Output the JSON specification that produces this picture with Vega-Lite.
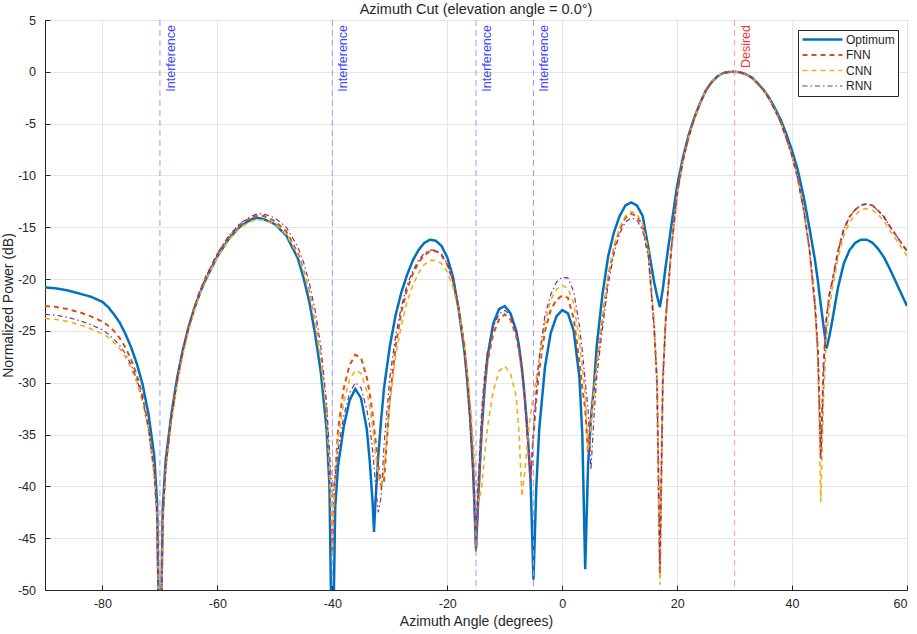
{
  "$schema": "https://vega.github.io/schema/vega-lite/v6.json",
  "width": 862,
  "height": 570,
  "autosize": {"type": "none"},
  "padding": {"left": 45, "top": 20, "right": 10, "bottom": 44},
  "background": "white",
  "title": {"text": "Azimuth Cut (elevation angle = 0.0°)", "fontSize": 14.5, "fontWeight": "normal", "font": "Liberation Sans", "color": "#262626", "offset": -3},
  "config": {
    "font": "Liberation Sans",
    "view": {"stroke": "#262626", "strokeWidth": 1},
    "axis": {
      "domainColor": "#262626", "tickColor": "#262626", "labelColor": "#262626", "titleColor": "#262626",
      "labelFontSize": 12.5, "titleFontSize": 14, "titleFontWeight": "normal", "labelFont": "Liberation Sans", "titleFont": "Liberation Sans",
      "gridColor": "#e6e6e6", "gridWidth": 1, "tickSize": -5, "labelExpr": "toString(datum.value)"
    }
  },
  "layer": [
    {
      "data": {"values": [
        {"x":-90,"Optimum":-20.8,"FNN":-22.6,"CNN":-23.8,"RNN":-23.4},
        {"x":-88,"Optimum":-20.9,"FNN":-22.7,"CNN":-23.9,"RNN":-23.5},
        {"x":-86,"Optimum":-21.1,"FNN":-22.9,"CNN":-24.1,"RNN":-23.7},
        {"x":-84,"Optimum":-21.4,"FNN":-23.2,"CNN":-24.4,"RNN":-24.0},
        {"x":-82,"Optimum":-21.7,"FNN":-23.6,"CNN":-24.8,"RNN":-24.4},
        {"x":-80,"Optimum":-22.2,"FNN":-24.1,"CNN":-25.3,"RNN":-24.9},
        {"x":-79,"Optimum":-22.7,"FNN":-24.5,"CNN":-25.6,"RNN":-25.3},
        {"x":-78,"Optimum":-23.4,"FNN":-25.0,"CNN":-26.1,"RNN":-25.8},
        {"x":-77,"Optimum":-24.2,"FNN":-25.7,"CNN":-26.7,"RNN":-26.4},
        {"x":-76,"Optimum":-25.3,"FNN":-26.6,"CNN":-27.5,"RNN":-27.2},
        {"x":-75,"Optimum":-26.6,"FNN":-27.8,"CNN":-28.6,"RNN":-28.3},
        {"x":-74,"Optimum":-28.2,"FNN":-29.3,"CNN":-30.0,"RNN":-29.7},
        {"x":-73,"Optimum":-30.2,"FNN":-31.3,"CNN":-31.9,"RNN":-31.6},
        {"x":-72,"Optimum":-33.0,"FNN":-34.2,"CNN":-34.6,"RNN":-34.3},
        {"x":-71,"Optimum":-37.0,"FNN":-38.5,"CNN":-38.8,"RNN":-38.5},
        {"x":-70.5,"Optimum":-41.5,"FNN":-43,"CNN":-43,"RNN":-43},
        {"x":-70,"Optimum":-60,"FNN":-60,"CNN":-60,"RNN":-60},
        {"x":-69.5,"Optimum":-42,"FNN":-43,"CNN":-44,"RNN":-43.5},
        {"x":-69,"Optimum":-37.5,"FNN":-38,"CNN":-38.5,"RNN":-38.2},
        {"x":-68,"Optimum":-33.0,"FNN":-33.3,"CNN":-33.8,"RNN":-33.5},
        {"x":-67,"Optimum":-29.5,"FNN":-29.7,"CNN":-30.2,"RNN":-29.8},
        {"x":-66,"Optimum":-26.8,"FNN":-26.9,"CNN":-27.3,"RNN":-26.9},
        {"x":-65,"Optimum":-24.6,"FNN":-24.6,"CNN":-25.0,"RNN":-24.6},
        {"x":-64,"Optimum":-22.8,"FNN":-22.7,"CNN":-23.0,"RNN":-22.7},
        {"x":-63,"Optimum":-21.3,"FNN":-21.1,"CNN":-21.4,"RNN":-21.1},
        {"x":-62,"Optimum":-20.0,"FNN":-19.8,"CNN":-20.0,"RNN":-19.8},
        {"x":-60,"Optimum":-17.8,"FNN":-17.6,"CNN":-17.9,"RNN":-17.5},
        {"x":-58,"Optimum":-16.1,"FNN":-15.9,"CNN":-16.2,"RNN":-15.8},
        {"x":-56,"Optimum":-14.9,"FNN":-14.7,"CNN":-15.0,"RNN":-14.6},
        {"x":-54,"Optimum":-14.2,"FNN":-14.0,"CNN":-14.4,"RNN":-13.9},
        {"x":-53,"Optimum":-14.1,"FNN":-13.9,"CNN":-14.3,"RNN":-13.7},
        {"x":-52,"Optimum":-14.2,"FNN":-13.9,"CNN":-14.3,"RNN":-13.7},
        {"x":-50,"Optimum":-14.7,"FNN":-14.4,"CNN":-14.7,"RNN":-14.1},
        {"x":-48,"Optimum":-15.8,"FNN":-15.4,"CNN":-15.7,"RNN":-15.0},
        {"x":-46,"Optimum":-18.0,"FNN":-17.5,"CNN":-17.7,"RNN":-16.9},
        {"x":-45,"Optimum":-19.9,"FNN":-19.2,"CNN":-19.3,"RNN":-18.4},
        {"x":-44,"Optimum":-22.2,"FNN":-21.3,"CNN":-21.4,"RNN":-20.4},
        {"x":-43,"Optimum":-25.3,"FNN":-24.2,"CNN":-24.2,"RNN":-23.0},
        {"x":-42,"Optimum":-29.0,"FNN":-27.8,"CNN":-27.8,"RNN":-26.5},
        {"x":-41,"Optimum":-34.5,"FNN":-33,"CNN":-33,"RNN":-32},
        {"x":-40.5,"Optimum":-40,"FNN":-38.5,"CNN":-38,"RNN":-36.5},
        {"x":-40,"Optimum":-60,"FNN":-46.5,"CNN":-44,"RNN":-41},
        {"x":-39.5,"Optimum":-42,"FNN":-39,"CNN":-39,"RNN":-39},
        {"x":-39,"Optimum":-38,"FNN":-34.5,"CNN":-35.5,"RNN":-36.5},
        {"x":-38,"Optimum":-34.2,"FNN":-30.5,"CNN":-31.8,"RNN":-33.2},
        {"x":-37,"Optimum":-31.7,"FNN":-28.3,"CNN":-29.7,"RNN":-31.0},
        {"x":-36,"Optimum":-30.6,"FNN":-27.3,"CNN":-28.8,"RNN":-30.0},
        {"x":-35,"Optimum":-31.5,"FNN":-27.6,"CNN":-29.1,"RNN":-30.5},
        {"x":-34,"Optimum":-34.5,"FNN":-29.5,"CNN":-30.8,"RNN":-32.6},
        {"x":-33.5,"Optimum":-37.5,"FNN":-31,"CNN":-32.3,"RNN":-34.2},
        {"x":-33,"Optimum":-41.5,"FNN":-33,"CNN":-34.3,"RNN":-36.5},
        {"x":-32.75,"Optimum":-44.4,"FNN":-34.3,"CNN":-35.5,"RNN":-38},
        {"x":-32.5,"Optimum":-41.5,"FNN":-35.5,"CNN":-36.8,"RNN":-39.8},
        {"x":-32,"Optimum":-37,"FNN":-38,"CNN":-39,"RNN":-42.5},
        {"x":-31.5,"Optimum":-33.5,"FNN":-40,"CNN":-40.3,"RNN":-41},
        {"x":-31,"Optimum":-30.5,"FNN":-39.5,"CNN":-38.5,"RNN":-36},
        {"x":-30,"Optimum":-26.5,"FNN":-31.5,"CNN":-32,"RNN":-29.5},
        {"x":-29,"Optimum":-23.5,"FNN":-26.5,"CNN":-27.5,"RNN":-25.5},
        {"x":-28,"Optimum":-21.3,"FNN":-23.2,"CNN":-24.5,"RNN":-22.7},
        {"x":-27,"Optimum":-19.6,"FNN":-21.0,"CNN":-22.2,"RNN":-20.6},
        {"x":-26,"Optimum":-18.2,"FNN":-19.5,"CNN":-20.6,"RNN":-19.2},
        {"x":-25,"Optimum":-17.2,"FNN":-18.4,"CNN":-19.4,"RNN":-18.2},
        {"x":-24,"Optimum":-16.5,"FNN":-17.7,"CNN":-18.6,"RNN":-17.5},
        {"x":-23,"Optimum":-16.2,"FNN":-17.3,"CNN":-18.2,"RNN":-17.2},
        {"x":-22,"Optimum":-16.3,"FNN":-17.3,"CNN":-18.2,"RNN":-17.2},
        {"x":-21,"Optimum":-16.8,"FNN":-17.7,"CNN":-18.5,"RNN":-17.6},
        {"x":-20,"Optimum":-17.9,"FNN":-18.6,"CNN":-19.3,"RNN":-18.5},
        {"x":-19,"Optimum":-19.8,"FNN":-20.2,"CNN":-20.8,"RNN":-20.2},
        {"x":-18,"Optimum":-23.0,"FNN":-22.8,"CNN":-23,"RNN":-23},
        {"x":-17,"Optimum":-27.0,"FNN":-26.5,"CNN":-26.5,"RNN":-27},
        {"x":-16.5,"Optimum":-30,"FNN":-29.5,"CNN":-29,"RNN":-30},
        {"x":-16,"Optimum":-33.5,"FNN":-33,"CNN":-32,"RNN":-34},
        {"x":-15.5,"Optimum":-38.5,"FNN":-38,"CNN":-35.5,"RNN":-39},
        {"x":-15,"Optimum":-46,"FNN":-46.3,"CNN":-39.5,"RNN":-44},
        {"x":-14.5,"Optimum":-40,"FNN":-40,"CNN":-41.5,"RNN":-38},
        {"x":-14,"Optimum":-34.5,"FNN":-34,"CNN":-40,"RNN":-32.5},
        {"x":-13.5,"Optimum":-30.5,"FNN":-30.5,"CNN":-37,"RNN":-29.2},
        {"x":-13,"Optimum":-27.5,"FNN":-28,"CNN":-34.3,"RNN":-27},
        {"x":-12,"Optimum":-24.3,"FNN":-25.3,"CNN":-30.8,"RNN":-24.6},
        {"x":-11,"Optimum":-22.9,"FNN":-23.9,"CNN":-28.9,"RNN":-23.4},
        {"x":-10,"Optimum":-22.6,"FNN":-23.4,"CNN":-28.4,"RNN":-23.0},
        {"x":-9,"Optimum":-23.3,"FNN":-23.9,"CNN":-29.1,"RNN":-23.5},
        {"x":-8,"Optimum":-25.0,"FNN":-25.5,"CNN":-31.3,"RNN":-25.0},
        {"x":-7.5,"Optimum":-26.5,"FNN":-27,"CNN":-35,"RNN":-26.5},
        {"x":-7,"Optimum":-28.7,"FNN":-29,"CNN":-41,"RNN":-28.5},
        {"x":-6.5,"Optimum":-31.5,"FNN":-31.5,"CNN":-38.5,"RNN":-31.5},
        {"x":-6,"Optimum":-35.0,"FNN":-35.5,"CNN":-35.5,"RNN":-35.5},
        {"x":-5.5,"Optimum":-39.5,"FNN":-39.5,"CNN":-33,"RNN":-39.5},
        {"x":-5,"Optimum":-49,"FNN":-35,"CNN":-31.2,"RNN":-35},
        {"x":-4.5,"Optimum":-40,"FNN":-31.5,"CNN":-29.5,"RNN":-30.5},
        {"x":-4,"Optimum":-34.5,"FNN":-28.8,"CNN":-27.8,"RNN":-27.5},
        {"x":-3,"Optimum":-28.5,"FNN":-25.0,"CNN":-24.2,"RNN":-23.5},
        {"x":-2,"Optimum":-25.2,"FNN":-23.0,"CNN":-22.0,"RNN":-21.5},
        {"x":-1,"Optimum":-23.6,"FNN":-22.0,"CNN":-21.0,"RNN":-20.3},
        {"x":0,"Optimum":-23.0,"FNN":-21.6,"CNN":-20.6,"RNN":-19.8},
        {"x":1,"Optimum":-23.3,"FNN":-21.8,"CNN":-20.9,"RNN":-19.9},
        {"x":2,"Optimum":-25.0,"FNN":-23.8,"CNN":-22.3,"RNN":-21.2},
        {"x":3,"Optimum":-29.5,"FNN":-28.0,"CNN":-26,"RNN":-24.5},
        {"x":3.5,"Optimum":-35,"FNN":-30.5,"CNN":-28.5,"RNN":-27},
        {"x":4,"Optimum":-48,"FNN":-32.5,"CNN":-31,"RNN":-29.8},
        {"x":4.5,"Optimum":-38,"FNN":-36.8,"CNN":-36.5,"RNN":-32.5},
        {"x":5,"Optimum":-33.5,"FNN":-33.5,"CNN":-34,"RNN":-38.4},
        {"x":5.5,"Optimum":-30.5,"FNN":-30.5,"CNN":-31,"RNN":-33.5},
        {"x":6,"Optimum":-26.5,"FNN":-28,"CNN":-28.5,"RNN":-29.5},
        {"x":7,"Optimum":-21.5,"FNN":-24.0,"CNN":-23.8,"RNN":-24.8},
        {"x":8,"Optimum":-17.8,"FNN":-19.8,"CNN":-19.6,"RNN":-20.5},
        {"x":9,"Optimum":-15.5,"FNN":-17.0,"CNN":-16.8,"RNN":-17.6},
        {"x":10,"Optimum":-13.9,"FNN":-15.2,"CNN":-15.0,"RNN":-15.6},
        {"x":11,"Optimum":-12.9,"FNN":-14.1,"CNN":-13.9,"RNN":-14.5},
        {"x":12,"Optimum":-12.6,"FNN":-13.7,"CNN":-13.5,"RNN":-14.1},
        {"x":13,"Optimum":-12.9,"FNN":-13.9,"CNN":-13.7,"RNN":-14.3},
        {"x":14,"Optimum":-13.9,"FNN":-14.9,"CNN":-14.7,"RNN":-15.3},
        {"x":15,"Optimum":-17.0,"FNN":-17.5,"CNN":-17.3,"RNN":-17.9},
        {"x":16,"Optimum":-20.3,"FNN":-24.6,"CNN":-24.3,"RNN":-24.8},
        {"x":16.5,"Optimum":-21.6,"FNN":-30,"CNN":-29.5,"RNN":-30},
        {"x":17,"Optimum":-22.7,"FNN":-48.5,"CNN":-49.5,"RNN":-48},
        {"x":17.5,"Optimum":-21.0,"FNN":-30,"CNN":-30,"RNN":-30},
        {"x":18,"Optimum":-18.8,"FNN":-24,"CNN":-24,"RNN":-24},
        {"x":19,"Optimum":-14.8,"FNN":-17.0,"CNN":-17.0,"RNN":-17.0},
        {"x":20,"Optimum":-11.0,"FNN":-11.8,"CNN":-11.8,"RNN":-11.8},
        {"x":21,"Optimum":-8.3,"FNN":-8.6,"CNN":-8.6,"RNN":-8.6},
        {"x":22,"Optimum":-6.1,"FNN":-6.3,"CNN":-6.3,"RNN":-6.3},
        {"x":23,"Optimum":-4.4,"FNN":-4.5,"CNN":-4.5,"RNN":-4.5},
        {"x":24,"Optimum":-3.0,"FNN":-3.0,"CNN":-3.0,"RNN":-3.0},
        {"x":25,"Optimum":-1.8,"FNN":-1.8,"CNN":-1.8,"RNN":-1.8},
        {"x":26,"Optimum":-1.0,"FNN":-1.0,"CNN":-1.0,"RNN":-1.0},
        {"x":27,"Optimum":-0.45,"FNN":-0.45,"CNN":-0.45,"RNN":-0.45},
        {"x":28,"Optimum":-0.12,"FNN":-0.12,"CNN":-0.12,"RNN":-0.12},
        {"x":29,"Optimum":-0.01,"FNN":-0.01,"CNN":-0.01,"RNN":-0.01},
        {"x":30,"Optimum":0,"FNN":0,"CNN":0,"RNN":0},
        {"x":31,"Optimum":-0.05,"FNN":-0.05,"CNN":-0.05,"RNN":-0.05},
        {"x":32,"Optimum":-0.25,"FNN":-0.26,"CNN":-0.26,"RNN":-0.26},
        {"x":33,"Optimum":-0.55,"FNN":-0.57,"CNN":-0.57,"RNN":-0.57},
        {"x":34,"Optimum":-1.1,"FNN":-1.12,"CNN":-1.12,"RNN":-1.12},
        {"x":35,"Optimum":-1.7,"FNN":-1.75,"CNN":-1.75,"RNN":-1.75},
        {"x":36,"Optimum":-2.5,"FNN":-2.6,"CNN":-2.6,"RNN":-2.6},
        {"x":37,"Optimum":-3.5,"FNN":-3.65,"CNN":-3.65,"RNN":-3.65},
        {"x":38,"Optimum":-4.6,"FNN":-4.85,"CNN":-4.85,"RNN":-4.85},
        {"x":39,"Optimum":-6.0,"FNN":-6.4,"CNN":-6.4,"RNN":-6.4},
        {"x":40,"Optimum":-7.6,"FNN":-8.1,"CNN":-8.1,"RNN":-8.1},
        {"x":41,"Optimum":-9.5,"FNN":-10.3,"CNN":-10.3,"RNN":-10.3},
        {"x":42,"Optimum":-12.0,"FNN":-13.2,"CNN":-13.2,"RNN":-13.2},
        {"x":43,"Optimum":-15.0,"FNN":-17.0,"CNN":-17.2,"RNN":-17.0},
        {"x":44,"Optimum":-18.2,"FNN":-22.5,"CNN":-23,"RNN":-22.5},
        {"x":44.5,"Optimum":-20.2,"FNN":-27,"CNN":-28,"RNN":-27},
        {"x":45,"Optimum":-22.5,"FNN":-36.8,"CNN":-41.5,"RNN":-37.5},
        {"x":45.5,"Optimum":-24.6,"FNN":-28,"CNN":-31,"RNN":-28.5},
        {"x":46,"Optimum":-26.7,"FNN":-23.7,"CNN":-25.5,"RNN":-23.7},
        {"x":46.5,"Optimum":-25.5,"FNN":-21.5,"CNN":-22.8,"RNN":-21.5},
        {"x":47,"Optimum":-24.0,"FNN":-20.2,"CNN":-21,"RNN":-20.2},
        {"x":48,"Optimum":-20.8,"FNN":-17.3,"CNN":-18.0,"RNN":-17.3},
        {"x":49,"Optimum":-18.5,"FNN":-15.2,"CNN":-15.8,"RNN":-15.2},
        {"x":50,"Optimum":-17.2,"FNN":-14.0,"CNN":-14.5,"RNN":-14.0},
        {"x":51,"Optimum":-16.5,"FNN":-13.3,"CNN":-13.8,"RNN":-13.3},
        {"x":52,"Optimum":-16.2,"FNN":-12.85,"CNN":-13.3,"RNN":-12.85},
        {"x":53,"Optimum":-16.2,"FNN":-12.75,"CNN":-13.2,"RNN":-12.75},
        {"x":54,"Optimum":-16.5,"FNN":-12.9,"CNN":-13.35,"RNN":-12.9},
        {"x":55,"Optimum":-17.1,"FNN":-13.4,"CNN":-13.8,"RNN":-13.4},
        {"x":56,"Optimum":-17.9,"FNN":-14.0,"CNN":-14.4,"RNN":-14.0},
        {"x":57,"Optimum":-19.0,"FNN":-14.9,"CNN":-15.3,"RNN":-14.9},
        {"x":58,"Optimum":-20.2,"FNN":-15.7,"CNN":-16.1,"RNN":-15.7},
        {"x":59,"Optimum":-21.4,"FNN":-16.5,"CNN":-16.9,"RNN":-16.5},
        {"x":60,"Optimum":-22.6,"FNN":-17.3,"CNN":-17.8,"RNN":-17.3}
      ]},
      "transform": [{"fold": ["Optimum", "FNN", "CNN", "RNN"], "as": ["series", "power"]}],
      "mark": {"type": "line", "clip": true},
      "encoding": {
        "x": {"field": "x", "type": "quantitative",
              "scale": {"domain": [-90, 60], "nice": false, "zero": false},
              "axis": {"values": [-80, -60, -40, -20, 0, 20, 40, 60], "title": "Azimuth Angle (degrees)", "labelPadding": 12, "titlePadding": 5}},
        "y": {"field": "power", "type": "quantitative",
              "scale": {"domain": [-50, 5], "nice": false, "zero": false},
              "axis": {"values": [-50, -45, -40, -35, -30, -25, -20, -15, -10, -5, 0, 5], "title": "Normalized Power (dB)", "labelPadding": 14.5, "titlePadding": 2}},
        "color": {"field": "series", "type": "nominal",
                  "scale": {"domain": ["Optimum", "FNN", "CNN", "RNN"], "range": ["#0072BD", "#D95319", "#EDB120", "#7E2F8E"]},
                  "legend": {"title": null, "orient": "none", "legendX": 753, "legendY": 10, "direction": "vertical", "columns": 1, "symbolType": "stroke", "symbolSize": 1600,
                             "clipHeight": 13, "labelFontSize": 12, "labelColor": "#262626", "labelOffset": 2, "labelAlign": "left", "padding": 3, "rowPadding": 2.5,
                             "strokeColor": "#262626", "fillColor": "white"}},
        "strokeDash": {"field": "series", "type": "nominal",
                       "scale": {"domain": ["Optimum", "FNN", "CNN", "RNN"], "range": [[1, 0], [5, 4], [5, 4], [5, 3, 1.5, 3]]}},
        "strokeWidth": {"field": "series", "type": "nominal",
                        "scale": {"domain": ["Optimum", "FNN", "CNN", "RNN"], "range": [2.5, 1.2, 1.2, 1.2]}}
      }
    },
    {
      "data": {"values": [
        {"pos": -70, "label": "Interference"},
        {"pos": -40, "label": "Interference"},
        {"pos": -15, "label": "Interference"},
        {"pos": -5, "label": "Interference"}
      ]},
      "layer": [
        {"mark": {"type": "rule", "color": "#9a9aff", "strokeDash": [6, 4], "strokeWidth": 1},
         "encoding": {"x": {"field": "pos", "type": "quantitative"}}},
        {"mark": {"type": "text", "angle": 270, "align": "right", "baseline": "top", "dx": -5, "dy": 5, "fontSize": 12.5, "font": "Liberation Sans", "color": "#4545ff"},
         "encoding": {"x": {"field": "pos", "type": "quantitative"}, "y": {"datum": 5, "type": "quantitative"}, "text": {"field": "label"}}}
      ]
    },
    {
      "data": {"values": [{"pos": 30, "label": "Desired"}]},
      "layer": [
        {"mark": {"type": "rule", "color": "#ff9a9a", "strokeDash": [6, 4], "strokeWidth": 1},
         "encoding": {"x": {"field": "pos", "type": "quantitative"}}},
        {"mark": {"type": "text", "angle": 270, "align": "right", "baseline": "top", "dx": -5, "dy": 5, "fontSize": 12.5, "font": "Liberation Sans", "color": "#f03c3c"},
         "encoding": {"x": {"field": "pos", "type": "quantitative"}, "y": {"datum": 5, "type": "quantitative"}, "text": {"field": "label"}}}
      ]
    }
  ]
}
